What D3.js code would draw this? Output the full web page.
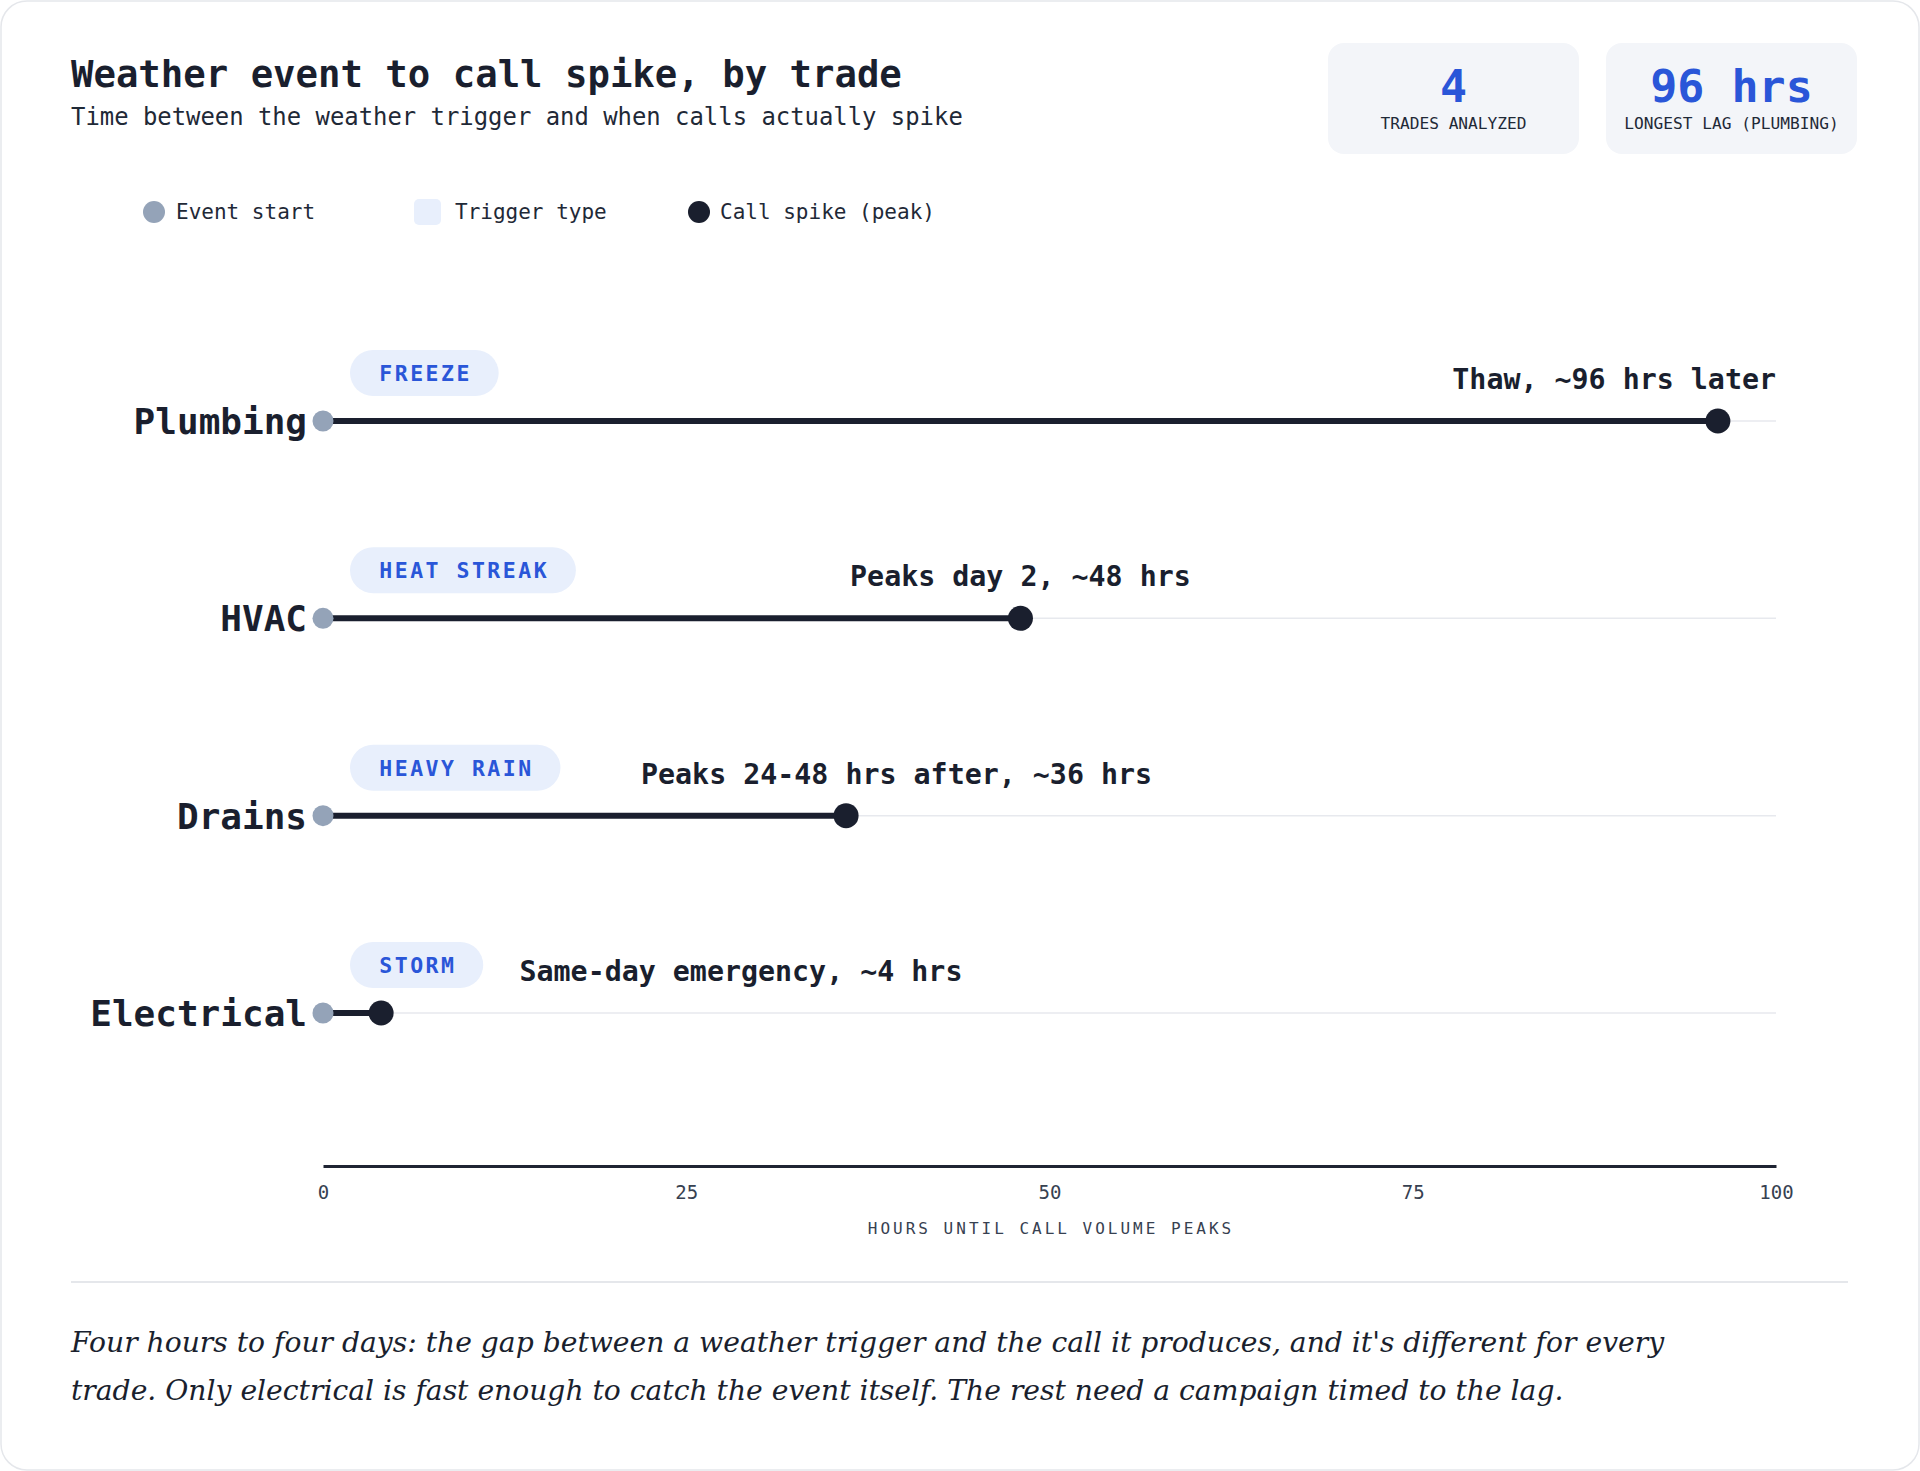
<!DOCTYPE html>
<html><head><meta charset="utf-8">
<script src="https://cdn.jsdelivr.net/npm/d3@7"></script>
<style>
html,body{margin:0;padding:0;background:#ffffff;}
svg{display:block;}
</style></head>
<body>
<script>
// ---- data ----
const trades = ["Plumbing", "HVAC", "Drains", "Electrical"];
const triggers = ["FREEZE", "HEAT STREAK", "HEAVY RAIN", "STORM"];
const startHours = [0, 0, 0, 0];
const peakHours = [96, 48, 36, 4];
const notes = ["Thaw, ~96 hrs later", "Peaks day 2, ~48 hrs", "Peaks 24-48 hrs after, ~36 hrs", "Same-day emergency, ~4 hrs"];
const xTicks = [0, 25, 50, 75, 100];
const statValues = ["4", "96 hrs"];
const statLabels = ["TRADES ANALYZED", "LONGEST LAG (PLUMBING)"];
const legendItems = ["Event start", "Trigger type", "Call spike (peak)"];
const titleText = "Weather event to call spike, by trade";
const subtitleText = "Time between the weather trigger and when calls actually spike";
const axisTitle = "HOURS UNTIL CALL VOLUME PEAKS";
const footerLines = [
  "Four hours to four days: the gap between a weather trigger and the call it produces, and it's different for every",
  "trade. Only electrical is fast enough to catch the event itself. The rest need a campaign timed to the lag."
];

// ---- style ----
const W = 1920, H = 1471;
const MONO = "'DejaVu Sans Mono', 'Liberation Mono', monospace";
const SERIF = "'DejaVu Serif', 'Liberation Serif', serif";
const DARK = "#1a1f2e";
const BLUE = "#2a56d8";
const GREY = "#94a3b8";
const PILL = "#e8effc";

const svg = d3.select("body").append("svg").attr("width", W).attr("height", H);

// card
svg.append("rect").attr("x", 1).attr("y", 1).attr("width", W - 2).attr("height", H - 2)
  .attr("rx", 26).attr("fill", "#ffffff").attr("stroke", "#e5e7eb").attr("stroke-width", 1.5);

// title & subtitle
svg.append("text").attr("x", 71).attr("y", 87).text(titleText)
  .attr("font-family", MONO).attr("font-weight", 700).attr("font-size", 37.3).attr("fill", DARK);
svg.append("text").attr("x", 71).attr("y", 125).text(subtitleText)
  .attr("font-family", MONO).attr("font-size", 23.9).attr("fill", "#1f2937");

// stat boxes
const statX = [1328, 1606];
statValues.forEach((v, i) => {
  const g = svg.append("g").attr("transform", `translate(${statX[i]},43)`);
  g.append("rect").attr("width", 251).attr("height", 111).attr("rx", 16).attr("fill", "#f3f5f9");
  g.append("text").attr("x", 125.5).attr("y", 59).attr("text-anchor", "middle").text(v)
    .attr("font-family", MONO).attr("font-weight", 700).attr("font-size", 45).attr("fill", BLUE);
  g.append("text").attr("x", 125.5).attr("y", 86).attr("text-anchor", "middle").text(statLabels[i])
    .attr("font-family", MONO).attr("font-size", 16.2).attr("fill", "#1f2937");
});

// legend
const lg = svg.append("g").attr("font-family", MONO).attr("font-size", 21).attr("fill", "#1f2937");
lg.append("circle").attr("cx", 154).attr("cy", 212).attr("r", 11).attr("fill", GREY);
lg.append("text").attr("x", 176).attr("y", 219).text(legendItems[0]);
lg.append("rect").attr("x", 414).attr("y", 199).attr("width", 27).attr("height", 26).attr("rx", 5).attr("fill", PILL);
lg.append("text").attr("x", 455).attr("y", 219).text(legendItems[1]);
lg.append("circle").attr("cx", 699).attr("cy", 212).attr("r", 11).attr("fill", DARK);
lg.append("text").attr("x", 720).attr("y", 219).text(legendItems[2]);

// scales
const x = d3.scaleLinear().domain([0, 100]).range([323, 1776]);
const y = d3.scalePoint().domain(trades).range([421, 1013]);

// rows
trades.forEach((t, i) => {
  const cy = y(t);
  const g = svg.append("g");
  // gridline
  g.append("line").attr("x1", x(0)).attr("x2", x(100)).attr("y1", cy).attr("y2", cy)
    .attr("stroke", "#e7e9ee").attr("stroke-width", 1.5);
  // label
  g.append("text").attr("x", 307).attr("y", cy + 13).attr("text-anchor", "end").text(t)
    .attr("font-family", MONO).attr("font-weight", 700).attr("font-size", 36).attr("fill", DARK);
  // bar
  g.append("line").attr("x1", x(startHours[i])).attr("x2", x(peakHours[i])).attr("y1", cy).attr("y2", cy)
    .attr("stroke", DARK).attr("stroke-width", 6);
  g.append("circle").attr("cx", x(startHours[i])).attr("cy", cy).attr("r", 10.5).attr("fill", GREY);
  g.append("circle").attr("cx", x(peakHours[i])).attr("cy", cy).attr("r", 12.5).attr("fill", DARK);
  // pill
  const px = x(0) + 27;
  const pillRect = g.append("rect").attr("x", px).attr("y", cy - 71).attr("height", 46).attr("rx", 23).attr("fill", PILL);
  const pt = g.append("text").attr("y", cy - 40).attr("text-anchor", "middle").text(triggers[i])
    .attr("font-family", MONO).attr("font-weight", 700).attr("font-size", 21.5).attr("letter-spacing", 2.5)
    .attr("fill", BLUE);
  const tw = pt.node().getComputedTextLength();
  const pw = tw + 56;
  pillRect.attr("width", pw);
  pt.attr("x", px + pw / 2 + 1.25);
  // annotation
  const nt = g.append("text").attr("y", cy - 32).text(notes[i])
    .attr("font-family", MONO).attr("font-weight", 700).attr("font-size", 28.3).attr("fill", DARK);
  const nw = nt.node().getComputedTextLength();
  let left = x(peakHours[i]) - nw / 2;
  const minLeft = px + triggers[i].length * 24.3 + 48;
  if (left < minLeft) left = minLeft;
  if (left + nw > x(100)) left = x(100) - nw;
  nt.attr("x", left);
});

// axis
const axis = svg.append("g").attr("transform", "translate(0,1166)")
  .call(d3.axisBottom(x).tickValues(xTicks).tickSize(0).tickSizeOuter(0).tickPadding(20));
axis.select(".domain").attr("stroke", "#1f2433").attr("stroke-width", 3);
axis.selectAll(".tick text").attr("font-family", MONO).attr("font-size", 19).attr("fill", "#374151");

svg.append("text").attr("x", (x(0) + x(100)) / 2 + 1.5).attr("y", 1234).attr("text-anchor", "middle").text(axisTitle)
  .attr("font-family", MONO).attr("font-size", 16).attr("letter-spacing", 3).attr("fill", "#374151");

// divider
svg.append("line").attr("x1", 71).attr("x2", 1848).attr("y1", 1282).attr("y2", 1282)
  .attr("stroke", "#e5e7eb").attr("stroke-width", 2);

// footer
const ft = svg.append("text").attr("font-family", SERIF).attr("font-style", "italic")
  .attr("font-size", 28.2).attr("fill", DARK);
footerLines.forEach((l, i) => {
  ft.append("tspan").attr("x", 71).attr("y", 1352 + i * 48).text(l);
});
</script>
</body></html>
